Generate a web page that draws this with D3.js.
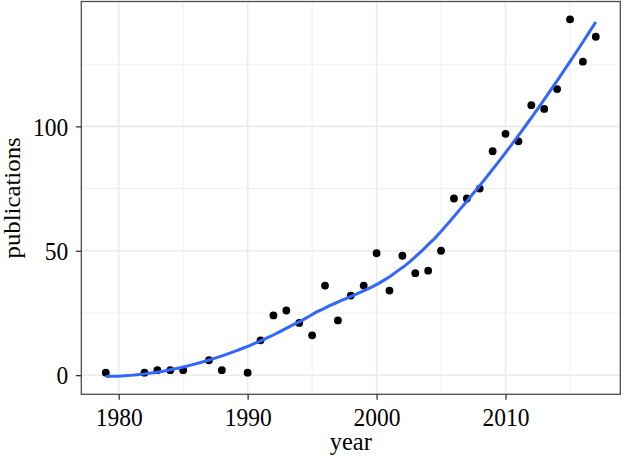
<!DOCTYPE html>
<html>
<head>
<meta charset="utf-8">
<script src="https://cdn.jsdelivr.net/npm/d3@7/dist/d3.min.js"></script>
<style>
  html, body { margin: 0; padding: 0; background: #fff; }
  svg text { font-family: "Liberation Serif", "DejaVu Serif", serif; fill: #000; }
</style>
</head>
<body>
<div id="chart"></div>
<script>
/* publications per year */
const years = [1979, 1982, 1983, 1984, 1985, 1987, 1988, 1990, 1991, 1992,
               1993, 1994, 1995, 1996, 1997, 1998, 1999, 2000, 2001, 2002,
               2003, 2004, 2005, 2006, 2007, 2008, 2009, 2010, 2011, 2012,
               2013, 2014, 2015, 2016, 2017];
const publications = [1, 1, 2, 2, 2, 6, 2, 1, 14, 24,
                      26, 21, 16, 36, 22, 32, 36, 49, 34, 48,
                      41, 42, 50, 71, 71, 75, 90, 97, 94, 108.5,
                      107, 115, 143, 126, 136];
const xTicks = [1980, 1990, 2000, 2010];
const xMinor = [1985, 1995, 2005, 2015];
const yTicks = [0, 50, 100];
const yMinor = [25, 75, 125];

const W = 624, H = 456;
const m = { top: 1.5, right: 3.7, bottom: 61.7, left: 81.3 };
const iw = W - m.left - m.right, ih = H - m.top - m.bottom;

/* loess (span .75, degree 2, tricube) — same defaults as geom_smooth */
function loess(xs, ys, x0, span) {
  const n = xs.length, q = Math.floor(n * span);
  const d = xs.map(x => Math.abs(x - x0));
  const maxD = d.slice().sort((a, b) => a - b)[q - 1];
  const S = [[0,0,0],[0,0,0],[0,0,0]], b = [0,0,0];
  for (let i = 0; i < n; i++) {
    const u = d[i] / maxD;
    if (u >= 1) continue;
    const w = Math.pow(1 - u*u*u, 3);
    const t = xs[i] - x0, f = [1, t, t*t];
    for (let r = 0; r < 3; r++) {
      b[r] += w * f[r] * ys[i];
      for (let c = 0; c < 3; c++) S[r][c] += w * f[r] * f[c];
    }
  }
  // gaussian elimination, 3x3
  const A = S.map((row, i) => row.concat([b[i]]));
  for (let i = 0; i < 3; i++) {
    let p = i;
    for (let k = i+1; k < 3; k++) if (Math.abs(A[k][i]) > Math.abs(A[p][i])) p = k;
    [A[i], A[p]] = [A[p], A[i]];
    for (let k = i+1; k < 3; k++) {
      const f = A[k][i] / A[i][i];
      for (let c = i; c < 4; c++) A[k][c] -= f * A[i][c];
    }
  }
  const sol = [0,0,0];
  for (let i = 2; i >= 0; i--) {
    let s = A[i][3];
    for (let c = i+1; c < 3; c++) s -= A[i][c] * sol[c];
    sol[i] = s / A[i][i];
  }
  return sol[0];
}

const x0 = d3.min(years), x1 = d3.max(years);
const fit = d3.range(80).map(i => {
  const x = x0 + (x1 - x0) * i / 79;
  return { x, y: loess(years, publications, x, 0.75) };
});

const pts = years.map((y, i) => ({ x: y, y: publications[i] }));

const yLo = Math.min(d3.min(publications), d3.min(fit, d => d.y));
const yHi = Math.max(d3.max(publications), d3.max(fit, d => d.y));
const xPad = (x1 - x0) * 0.05, yPad = (yHi - yLo) * 0.05;

const x = d3.scaleLinear().domain([x0 - xPad, x1 + xPad]).range([0, iw]);
const y = d3.scaleLinear().domain([yLo - yPad, yHi + yPad]).range([ih, 0]);

const svg = d3.select('#chart').append('svg')
  .attr('width', W).attr('height', H);
const g = svg.append('g').attr('transform', `translate(${m.left},${m.top})`);

/* grid */
const grid = g.append('g');
grid.selectAll('.xm').data(xMinor).join('line')
  .attr('x1', d => x(d)).attr('x2', d => x(d)).attr('y1', 0).attr('y2', ih)
  .attr('stroke', '#ebebeb').attr('stroke-width', 0.8);
grid.selectAll('.ym').data(yMinor).join('line')
  .attr('y1', d => y(d)).attr('y2', d => y(d)).attr('x1', 0).attr('x2', iw)
  .attr('stroke', '#ebebeb').attr('stroke-width', 0.8);
grid.selectAll('.xM').data(xTicks).join('line')
  .attr('x1', d => x(d)).attr('x2', d => x(d)).attr('y1', 0).attr('y2', ih)
  .attr('stroke', '#ebebeb').attr('stroke-width', 1.6);
grid.selectAll('.yM').data(yTicks).join('line')
  .attr('y1', d => y(d)).attr('y2', d => y(d)).attr('x1', 0).attr('x2', iw)
  .attr('stroke', '#ebebeb').attr('stroke-width', 1.6);

/* points + smooth */
g.append('g').selectAll('circle').data(pts).join('circle')
  .attr('cx', d => x(d.x)).attr('cy', d => y(d.y)).attr('r', 3.9)
  .attr('fill', '#000');

g.append('path').datum(fit)
  .attr('d', d3.line().x(d => x(d.x)).y(d => y(d.y)))
  .attr('fill', 'none').attr('stroke', '#3366ff').attr('stroke-width', 3);

/* panel border */
g.append('rect').attr('width', iw).attr('height', ih)
  .attr('fill', 'none').attr('stroke', '#4d4d4d').attr('stroke-width', 1.3);

/* axes — the reference glyphs are a little taller than wide, hence scale(1,1.1) */
const xAxis = g.append('g').attr('transform', `translate(0,${ih})`)
  .call(d3.axisBottom(x).tickValues(xTicks).tickFormat(d3.format('d')).tickSizeOuter(0).tickSize(5.5));
const yAxis = g.append('g')
  .call(d3.axisLeft(y).tickValues(yTicks).tickSizeOuter(0).tickSize(5.5));
[xAxis, yAxis].forEach(a => {
  a.select('.domain').remove();
  a.selectAll('line').attr('stroke', '#333').attr('stroke-width', 1.3);
  a.selectAll('text').attr('font-size', null).style('font-size', '23.5px')
    .attr('font-family', null).attr('fill', '#000').attr('dy', null);
});
xAxis.selectAll('text').attr('y', null)
  .attr('transform', `translate(0,${426 - m.top - ih}) scale(1,1.1)`);
yAxis.selectAll('text').attr('x', null)
  .attr('transform', `translate(${68.3 - m.left},8.7) scale(1,1.1)`);

/* titles */
svg.append('text').attr('transform', `translate(${m.left + iw / 2},450) scale(1,1.07)`)
  .attr('text-anchor', 'middle').style('font-size', '24.5px').text('year');
svg.append('text')
  .attr('transform', `translate(19.5,${m.top + ih / 2}) scale(0.9,1) rotate(-90)`)
  .attr('text-anchor', 'middle').style('font-size', '24.8px').text('publications');
</script>
</body>
</html>
